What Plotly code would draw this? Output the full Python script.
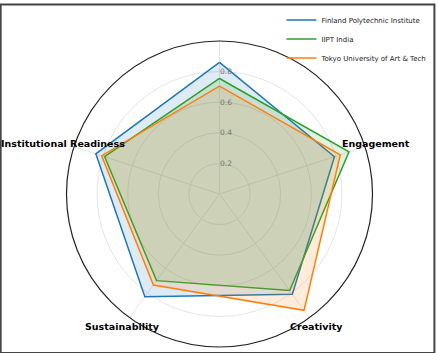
import math
import plotly.graph_objects as go

categories = ["Innovation", "Engagement", "Creativity", "Sustainability", "Institutional Readiness"]
axis_labels = ["", "Engagement", "Creativity", "Sustainability", "Institutional Readiness"]
finland = [0.86, 0.79, 0.81, 0.83, 0.85]
iipt = [0.755, 0.89, 0.78, 0.70, 0.79]
tokyo = [0.705, 0.83, 0.94, 0.735, 0.81]
series = [
    ("Finland Polytechnic Institute", finland, "#1f77b4", "rgba(31,119,180,0.15)"),
    ("IIPT India", iipt, "#2ca02c", "rgba(44,160,44,0.15)"),
    ("Tokyo University of Art & Tech", tokyo, "#ff7f0e", "rgba(255,127,14,0.15)"),
]
radial_ticks = [0.2, 0.4, 0.6, 0.8]
label_radius = 1.07

n = len(categories)
angles = [i * 360.0 / n for i in range(n)]

fig = go.Figure()
for name, vals, col, fillc in series:
    fig.add_trace(go.Scatterpolar(
        r=vals + vals[:1], theta=angles + angles[:1], mode="lines", name=name,
        line=dict(color=col, width=1.5), fill="toself", fillcolor=fillc,
        showlegend=False, hoverinfo="r+theta",
    ))
for name, vals, col, fillc in series:
    fig.add_trace(go.Scatterpolar(
        r=[None], theta=[None], mode="lines", name=name,
        line=dict(color=col, width=1.5), showlegend=True,
    ))

W, H = 438, 353
ml, mr, mt, mb = 66, 62, 37, 6
pw, ph = W - ml - mr, H - mt - mb

annotations = []
for ang, lab in zip(angles, axis_labels):
    if not lab:
        continue
    a = math.radians(ang)
    annotations.append(dict(
        xref="paper", yref="paper",
        x=0.5 + 0.5 * label_radius * math.sin(a),
        y=0.5 + 0.5 * label_radius * math.cos(a),
        text=f"<b>{lab}</b>", showarrow=False, xanchor="center", yanchor="middle",
        font=dict(family="DejaVu Sans", size=9.5, color="black"),
    ))

fig.update_layout(
    width=W, height=H,
    margin=dict(l=ml, r=mr, t=mt, b=mb, pad=0),
    paper_bgcolor="white", plot_bgcolor="white",
    font=dict(family="DejaVu Sans"),
    polar=dict(
        bgcolor="white",
        domain=dict(x=[0, 1], y=[0, 1]),
        angularaxis=dict(
            rotation=90, direction="clockwise", thetaunit="degrees",
            tickvals=angles, showticklabels=False, ticks="",
            showline=True, linecolor="#222", linewidth=1.2,
            showgrid=True, gridcolor="#e6e6e6", gridwidth=1,
        ),
        radialaxis=dict(
            range=[0, 1], tickvals=radial_ticks, ticktext=[f"{v:.1f}" for v in radial_ticks],
            angle=90, tickangle=90, showline=False, ticks="",
            tickfont=dict(size=7.5, color="#777"),
            showgrid=True, gridcolor="#e6e6e6", gridwidth=1,
        ),
    ),
    legend=dict(
        x=1.0 + (mr - 2) / pw, xanchor="right", y=1.0 + (mt - 1) / ph, yanchor="top",
        font=dict(size=7, color="#222"), bgcolor="rgba(255,255,255,0)",
        borderwidth=0, tracegroupgap=0,
    ),
    annotations=annotations,
    shapes=[dict(
        type="rect", xref="paper", yref="paper",
        x0=-ml / pw, x1=1 + mr / pw, y0=-mb / ph, y1=1 + mt / ph,
        line=dict(color="#444", width=2),
    )],
)

fig.write_html("out.html")
